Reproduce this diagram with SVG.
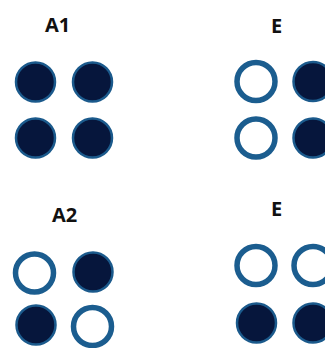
<svg xmlns="http://www.w3.org/2000/svg" width="325" height="348" viewBox="0 0 325 348">
<style>
.lbl{font-family:"Open Sans","Liberation Sans",sans-serif;font-weight:bold;font-size:20px;fill:#111;text-anchor:middle}
.f{fill:#06163c;stroke:#1b5a8c;stroke-width:2.5}
.o{fill:#fff;stroke:#1b5d8f;stroke-width:5.5}
</style>
<rect width="325" height="348" fill="#fff"/>
<g id="A1">
<text class="lbl" x="57.5" y="32">A1</text>
<circle class="f" cx="35.5" cy="82" r="19.5"/>
<circle class="f" cx="92.5" cy="82" r="19.5"/>
<circle class="f" cx="35.5" cy="138" r="19.5"/>
<circle class="f" cx="92.5" cy="138" r="19.5"/>
</g>
<g id="E1">
<text class="lbl" x="276.5" y="33">E</text>
<circle class="o" cx="256" cy="81.5" r="19"/>
<circle class="f" cx="313" cy="81.5" r="19.5"/>
<circle class="o" cx="256" cy="138" r="19"/>
<circle class="f" cx="313" cy="138" r="19.5"/>
</g>
<g id="A2">
<text class="lbl" x="64.5" y="222">A2</text>
<circle class="o" cx="34.5" cy="273" r="19"/>
<circle class="f" cx="93" cy="272" r="19.5"/>
<circle class="f" cx="36" cy="325" r="19.5"/>
<circle class="o" cx="92.5" cy="326.5" r="19"/>
</g>
<g id="E2">
<text class="lbl" x="276.5" y="216">E</text>
<circle class="o" cx="256" cy="265.5" r="19"/>
<circle class="o" cx="313" cy="265.5" r="19"/>
<circle class="f" cx="256.5" cy="323" r="19.5"/>
<circle class="f" cx="313" cy="323" r="19.5"/>
</g>
<g id="connectors"/>
</svg>
